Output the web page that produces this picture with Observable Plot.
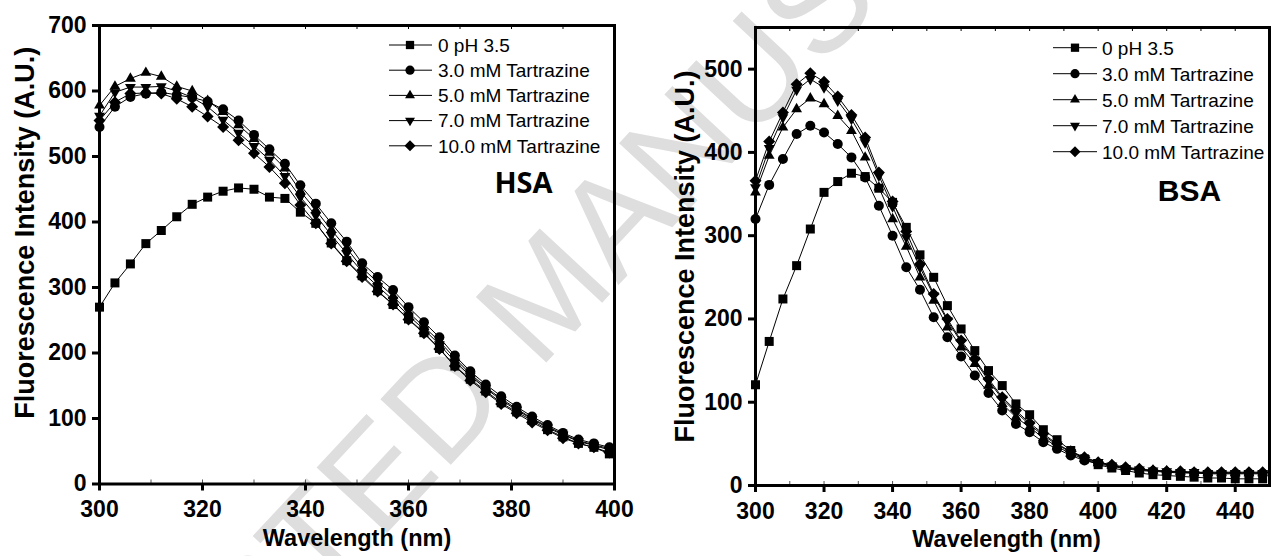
<!DOCTYPE html>
<html><head><meta charset="utf-8">
<script src="https://cdn.jsdelivr.net/npm/d3@7"></script>
<script src="https://cdn.jsdelivr.net/npm/@observablehq/plot@0.6"></script>
<style>
html,body{margin:0;padding:0;background:#fff;}
#wrap{position:relative;width:1272px;height:556px;overflow:hidden;font-family:"Liberation Sans",Arial,sans-serif;}
#wrap > *{position:absolute;top:0;}
</style></head><body><div id="wrap"></div>
<script>
// ---------- data ----------
const seriesNames = ["0 pH 3.5","3.0 mM Tartrazine","5.0 mM Tartrazine","7.0 mM Tartrazine","10.0 mM Tartrazine"];

const hsaWavelength = [300,303,306,309,312,315,318,321,324,327,330,333,336,339,342,345,348,351,354,357,360,363,366,369,372,375,378,381,384,387,390,393,396,399];
const hsaPH35  = [270,307,336,367,387,408,427,438,447,452,450,438,436,415,398,368,341,318,295,274,252,231,207,180,160,142,124,110,97,83,72,62,56,46];
const hsaTart3 = [545,576,591,596,598,594,590,584,572,555,533,511,489,456,428,398,370,337,316,296,270,247,224,196,172,152,134,118,103,90,78,68,62,56];
const hsaTart5 = [578,607,619,628,622,607,600,585,568,548,527,506,482,447,418,388,360,330,308,287,262,240,218,192,168,148,130,115,100,88,76,66,60,54];
const hsaTart7 = [562,598,606,606,607,600,590,576,556,536,516,495,470,438,410,380,352,324,302,281,257,236,213,187,165,146,128,113,99,86,75,65,59,52];
const hsaTart10= [555,583,596,597,596,588,576,561,545,525,505,484,459,426,398,367,340,316,294,274,251,230,206,180,158,140,122,108,94,82,70,62,56,48];

const bsaWavelength = [300,304,308,312,316,320,324,328,332,336,340,344,348,352,356,360,364,368,372,376,380,384,388,392,396,400,404,408,412,416,420,424,428,432,436,440,444,448];
const bsaPH35  = [121,173,224,264,308,352,365,375,371,357,340,310,277,250,216,188,162,138,120,98,85,67,55,42,32,25,21,18,15,13,12,11,10,9,9,8,8,8];
const bsaTart3 = [320,361,392,422,432,424,410,394,370,336,300,262,235,202,178,155,132,111,90,74,64,52,44,36,30,26,23,20,18,17,16,15,15,14,14,14,14,14];
const bsaTart5 = [352,396,430,452,465,458,444,426,394,358,320,287,250,222,190,166,146,120,98,82,70,57,47,38,32,27,24,21,19,18,17,16,15,15,15,15,15,15];
const bsaTart7 = [358,405,442,475,488,478,462,440,412,372,335,298,262,228,198,172,150,126,104,88,73,60,49,40,33,28,24,21,19,18,17,16,16,15,15,15,15,15];
const bsaTart10= [366,413,448,482,495,485,467,445,418,376,341,305,266,230,200,174,152,128,106,90,75,62,50,41,34,28,25,22,20,18,17,17,16,16,16,16,16,16];

const hsaXTicks = [300,320,340,360,380,400];
const hsaXMinor = [310,320,330,340,350,360,370,380,390];
const hsaYTicks = [0,100,200,300,400,500,600,700];
const bsaXTicks = [300,320,340,360,380,400,420,440];
const bsaXMinor = [310,320,330,340,350,360,370,380,390,400,410,420,430,440];
const bsaYTicks = [0,100,200,300,400,500];

const xTitle = "Wavelength (nm)";
const yTitle = "Fluorescence Intensity (A.U.)";
const watermark = "ACCEPTED MANUSCRIPT";

// ---------- symbols ----------
const rad = s => Math.sqrt(s / Math.PI);
const symSquare = {draw(c, s){const h = rad(s)*0.9; c.moveTo(-h,-h); c.lineTo(h,-h); c.lineTo(h,h); c.lineTo(-h,h); c.closePath();}};
const symCircle = {draw(c, s){const r = rad(s); c.moveTo(r,0); c.arc(0,0,r,0,2*Math.PI); c.closePath();}};
const symTriUp  = {draw(c, s){const R = rad(s)*1.25; c.moveTo(0,-R); c.lineTo(R*0.866,R*0.5); c.lineTo(-R*0.866,R*0.5); c.closePath();}};
const symTriDn  = {draw(c, s){const R = rad(s)*1.25; c.moveTo(0,R); c.lineTo(R*0.866,-R*0.5); c.lineTo(-R*0.866,-R*0.5); c.closePath();}};
const symDiam   = {draw(c, s){const d = rad(s)*1.2; c.moveTo(0,-d); c.lineTo(d,0); c.lineTo(0,d); c.lineTo(-d,0); c.closePath();}};
const symbols = [symSquare, symCircle, symTriUp, symTriDn, symDiam];

const FONT = '"Liberation Sans", Arial, sans-serif';
const wrap = document.getElementById("wrap");

// ---------- watermark (behind) ----------
{
  const svg = d3.create("svg").attr("width",1272).attr("height",556).style("left","0px");
  svg.append("text").attr("transform","translate(545,292) rotate(-47)")
    .attr("text-anchor","middle").attr("dy","0.35em")
    .attr("font-family",FONT).attr("font-size",140).attr("fill","#dedede")
    .text(watermark);
  wrap.appendChild(svg.node());
}

function panel(o){
  const data = [];
  o.series.forEach((vals, i) => vals.forEach((v, j) => data.push({x: o.wl[j], y: v, s: seriesNames[i]})));
  const plotH = 556 - o.mt - o.mb;
  const marks = [
    Plot.tickX(o.minor, {x: d => d, insetBottom: plotH - 4, stroke: "black", strokeWidth: 1}),
    Plot.tickX(o.minor, {x: d => d, insetTop: plotH - 4, stroke: "#555", strokeWidth: 1}),
    Plot.line(data, {x: "x", y: "y", z: "s", stroke: "black", strokeWidth: 1})
  ];
  seriesNames.forEach((name, i) => {
    marks.push(Plot.dot(data.filter(d => d.s === name), {x: "x", y: "y", r: 5, symbol: symbols[i], fill: "black", stroke: "none"}));
  });
  marks.push(
    Plot.frame({stroke: "black", strokeWidth: 3}),
    Plot.axisX({ticks: o.xTicks, tickSize: 7, tickPadding: 10, strokeWidth: 3, tickFormat: d => String(d), label: null, fontSize: 23, fontWeight: "bold"}),
    Plot.axisY({ticks: o.yTicks, tickSize: 7, tickPadding: 6, strokeWidth: 3, tickFormat: d => String(d), label: null, fontSize: 23, fontWeight: "bold"}),
    Plot.text([xTitle], {text: d => d, frameAnchor: "bottom", textAnchor: "middle", lineAnchor: "middle", dx: o.xTitleDx, dy: 54, fontSize: 23.5, fontWeight: "bold"}),
    Plot.text([yTitle], {text: d => d, frameAnchor: "left", textAnchor: "middle", lineAnchor: "middle", dx: o.yTitleDx, dy: o.yTitleDy, rotate: -90, fontSize: 27, fontWeight: "bold"}),
    Plot.text([o.tag], {text: d => d, frameAnchor: "top-right", textAnchor: "middle", lineAnchor: "middle", dx: o.tagDx, dy: o.tagDy, fontSize: o.tagSize, fontWeight: "bold", fontFamily: o.tagFont})
  );
  const chart = Plot.plot({
    width: o.width, height: 556,
    marginLeft: o.ml, marginRight: o.mr, marginTop: o.mt, marginBottom: o.mb,
    x: {domain: [300, o.xMax]},
    y: {domain: [0, o.yMax]},
    style: {background: "transparent", fontFamily: FONT, fontWeight: "bold", overflow: "visible", color: "black"},
    marks
  });
  chart.style.left = o.left + "px";
  wrap.appendChild(chart);
}

panel({left: 0, width: 636, ml: 99, mr: 22, mt: 25, mb: 72.5,
  wl: hsaWavelength, series: [hsaPH35, hsaTart3, hsaTart5, hsaTart7, hsaTart10],
  xMax: 400, yMax: 700, xTicks: hsaXTicks, yTicks: hsaYTicks, minor: hsaXMinor,
  xTitleDx: 0, yTitleDx: -74, yTitleDy: -22,
  tag: "HSA", tagDx: -91, tagDy: 158, tagSize: 29, tagFont: '"Open Sans", sans-serif'});

panel({left: 636, width: 636, ml: 119, mr: 3, mt: 27, mb: 71,
  wl: bsaWavelength, series: [bsaPH35, bsaTart3, bsaTart5, bsaTart7, bsaTart10],
  xMax: 450, yMax: 550, xTicks: bsaXTicks, yTicks: bsaYTicks, minor: bsaXMinor,
  xTitleDx: -6, yTitleDx: -70, yTitleDy: 0,
  tag: "BSA", tagDx: -80, tagDy: 164, tagSize: 30, tagFont: FONT});

// ---------- legends (overlay) ----------
{
  const svg = d3.create("svg").attr("width",1272).attr("height",556).style("left","0px").style("pointer-events","none");
  const legends = [
    {x1: 389, x2: 432, mx: 410, tx: 438, y0: 45, dy: 25.2},
    {x1: 1053, x2: 1097, mx: 1075, tx: 1102, y0: 47.7, dy: 26}
  ];
  legends.forEach(L => {
    seriesNames.forEach((name, i) => {
      const y = L.y0 + i * L.dy;
      const g = svg.append("g");
      g.append("line").attr("x1",L.x1).attr("x2",L.x2).attr("y1",y).attr("y2",y).attr("stroke","black").attr("stroke-width",1);
      g.append("path").attr("d", d3.symbol(symbols[i], Math.PI*4.6*4.6)()).attr("transform",`translate(${L.mx},${y})`).attr("fill","black");
      g.append("text").attr("x",L.tx).attr("y",y).attr("dy","0.36em").attr("font-family",FONT).attr("font-size",19).attr("fill","black").text(name);
    });
  });
  wrap.appendChild(svg.node());
}
</script></body></html>
